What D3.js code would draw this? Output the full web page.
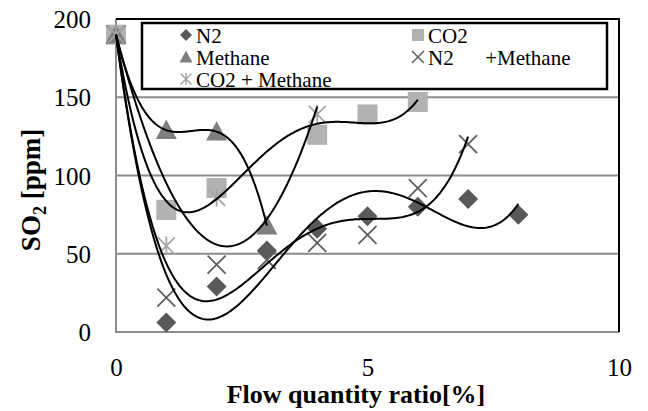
<!DOCTYPE html>
<html>
<head>
<meta charset="utf-8">
<script src="https://cdn.jsdelivr.net/npm/d3@7"></script>
<style>
  html, body { margin: 0; padding: 0; background: #fff; }
  svg { display: block; }
  text { font-family: "Liberation Serif", "Times New Roman", serif; fill: #000; }
</style>
</head>
<body>
<svg id="chart" width="648" height="411"></svg>
<script>
// ---------- data ----------
const xN2 = [0, 1, 2, 3, 4, 5, 6, 7, 8];
const yN2 = [190, 6, 29, 52, 66, 74, 80, 85, 75];

const xCO2 = [0, 1, 2, 4, 5, 6];
const yCO2 = [190, 78, 92, 126, 139, 147];

const xMethane = [0, 1, 2, 3];
const yMethane = [190, 129, 128, 68];

const xN2Methane = [0, 1, 2, 3, 4, 5, 6, 7];
const yN2Methane = [190, 22, 43, 46, 57, 62, 92, 120];

const xCO2Methane = [0, 1, 2, 4];
const yCO2Methane = [190, 55, 86, 139];

const seriesNames = ["N2", "CO2", "Methane", "N2\u2003\u2002+Methane", "CO2 + Methane"];
// polynomial trendline orders (intercept fixed at first value)
const trendOrders = [4, 4, 3, 4, 2];

const xTicks = [0, 5, 10];
const yTicks = [0, 50, 100, 150, 200];
const xTitle = "Flow quantity ratio[%]";

// ---------- layout ----------
const svg = d3.select("#chart");
const X0 = 116, X1 = 619, Y0 = 332, Y1 = 19;
const x = d3.scaleLinear().domain([0, 10]).range([X0, X1]);
const y = d3.scaleLinear().domain([0, 200]).range([Y0, Y1]);
const FONT = "Liberation Serif";

const series = [
  { name: seriesNames[0], xs: xN2, ys: yN2, type: "diamond", color: "#595959", order: trendOrders[0] },
  { name: seriesNames[1], xs: xCO2, ys: yCO2, type: "square", color: "#b2b2b2", order: trendOrders[1] },
  { name: seriesNames[2], xs: xMethane, ys: yMethane, type: "triangle", color: "#7f7f7f", order: trendOrders[2] },
  { name: seriesNames[3], xs: xN2Methane, ys: yN2Methane, type: "cross", color: "#5f5f5f", order: trendOrders[3] },
  { name: seriesNames[4], xs: xCO2Methane, ys: yCO2Methane, type: "star", color: "#a6a6a6", order: trendOrders[4] }
];

// gridlines
const grid = svg.append("g");
grid.selectAll("line.g").data(yTicks.filter(v => v < 200)).enter().append("line")
  .attr("x1", X0).attr("x2", X1)
  .attr("y1", d => y(d)).attr("y2", d => y(d))
  .attr("stroke", "#8c8c8c").attr("stroke-width", 2);
grid.append("line").attr("x1", X0).attr("x2", X0).attr("y1", Y1).attr("y2", Y0 + 1)
  .attr("stroke", "#8c8c8c").attr("stroke-width", 2);
grid.append("path")
  .attr("d", `M${X0},${Y1}H${X1}V${Y0}`)
  .attr("fill", "none").attr("stroke", "#000").attr("stroke-width", 2);

// axes labels via d3 axes
const yAxis = svg.append("g").attr("transform", `translate(${X0 - 25},0)`)
  .call(d3.axisLeft(y).tickValues(yTicks).tickSize(0).tickPadding(0));
yAxis.select(".domain").remove();
yAxis.attr("font-family", FONT);
yAxis.selectAll("text").attr("font-size", 25).attr("font-family", FONT).attr("dy", "0.34em");

const xAxis = svg.append("g").attr("transform", `translate(0,${Y0 + 26})`)
  .call(d3.axisBottom(x).tickValues(xTicks).tickSize(0).tickPadding(0));
xAxis.select(".domain").remove();
xAxis.attr("font-family", FONT);
xAxis.selectAll("text").attr("font-size", 25).attr("font-family", FONT).attr("dy", "0.72em");

// titles
svg.append("text").attr("x", 356).attr("y", 403).attr("text-anchor", "middle")
  .attr("font-family", FONT).attr("font-size", 26).attr("font-weight", "bold").text(xTitle);

const yt = svg.append("text").attr("transform", "translate(40,190) rotate(-90)")
  .attr("text-anchor", "middle").attr("font-family", FONT).attr("font-size", 27).attr("font-weight", "bold");
yt.append("tspan").text("SO");
yt.append("tspan").attr("font-size", 18).attr("dy", 6).text("2");
yt.append("tspan").attr("dy", -6).text(" [ppm]");

// ---------- markers ----------
function markerPath(type, s) {
  const h = s / 2;
  switch (type) {
    case "diamond": return `M0,${-h}L${h},0L0,${h}L${-h},0Z`;
    case "square": return `M${-h},${-h}H${h}V${h}H${-h}Z`;
    case "triangle": return `M0,${-h}L${h},${h * 0.85}L${-h},${h * 0.85}Z`;
    case "cross": return `M${-h},${-h}L${h},${h}M${h},${-h}L${-h},${h}`;
    case "star": return `M${-h},${-h}L${h},${h}M${h},${-h}L${-h},${h}M0,${-h * 1.1}V${h * 1.1}`;
  }
}
const sizes = { diamond: 20, square: 20, triangle: 21, cross: 18, star: 17 };
const legendSizes = { diamond: 12, square: 12, triangle: 13, cross: 12, star: 11 };
function drawMarker(g, type, color, s, w) {
  const filled = type !== "cross" && type !== "star";
  g.append("path").attr("d", markerPath(type, s))
    .attr("fill", filled ? color : "none")
    .attr("stroke", filled ? "none" : color)
    .attr("stroke-width", filled ? 0 : w);
}

const markers = svg.append("g");
series.forEach(sr => {
  sr.xs.forEach((xv, i) => {
    const g = markers.append("g").attr("transform", `translate(${x(xv)},${y(sr.ys[i])})`);
    drawMarker(g, sr.type, sr.color, sizes[sr.type], 1.8);
  });
});

// ---------- polynomial trendlines (least squares, intercept fixed) ----------
function polyFitFixed(xs, ys, n, c0) {
  const A = Array.from({ length: n }, () => new Array(n).fill(0));
  const b = new Array(n).fill(0);
  xs.forEach((xv, i) => {
    const r = ys[i] - c0;
    for (let j = 1; j <= n; j++) {
      b[j - 1] += Math.pow(xv, j) * r;
      for (let k = 1; k <= n; k++) A[j - 1][k - 1] += Math.pow(xv, j + k);
    }
  });
  for (let c = 0; c < n; c++) {
    let p = c;
    for (let r = c + 1; r < n; r++) if (Math.abs(A[r][c]) > Math.abs(A[p][c])) p = r;
    [A[c], A[p]] = [A[p], A[c]]; [b[c], b[p]] = [b[p], b[c]];
    for (let r = c + 1; r < n; r++) {
      const f = A[r][c] / A[c][c];
      for (let k = c; k < n; k++) A[r][k] -= f * A[c][k];
      b[r] -= f * b[c];
    }
  }
  const a = new Array(n).fill(0);
  for (let r = n - 1; r >= 0; r--) {
    let s = b[r];
    for (let k = r + 1; k < n; k++) s -= A[r][k] * a[k];
    a[r] = s / A[r][r];
  }
  return [c0, ...a];
}
const curves = svg.append("g");
series.forEach(sr => {
  const coef = polyFitFixed(sr.xs, sr.ys, sr.order, sr.ys[0]);
  const f = t => coef.reduce((s, c, k) => s + c * Math.pow(t, k), 0);
  const xmax = d3.max(sr.xs);
  const pts = d3.range(0, 201).map(i => xmax * i / 200);
  curves.append("path")
    .attr("d", d3.line().x(t => x(t)).y(t => y(f(t)))(pts))
    .attr("fill", "none").attr("stroke", "#000").attr("stroke-width", 2);
});

// ---------- legend ----------
const lg = svg.append("g");
lg.append("rect").attr("x", 142).attr("y", 23).attr("width", 465).attr("height", 66)
  .attr("fill", "#fff").attr("stroke", "#000").attr("stroke-width", 2.5);
const legendPos = [[186, 35], [418, 35], [186, 57], [418, 57], [186, 79]];
series.forEach((sr, i) => {
  const [lx, ly] = legendPos[i];
  const g = lg.append("g").attr("transform", `translate(${lx},${ly})`);
  drawMarker(g, sr.type, sr.color, legendSizes[sr.type], 1.5);
  lg.append("text").attr("x", lx + 10).attr("y", ly + 7.5)
    .attr("font-family", FONT)
    .attr("font-size", 21).attr("xml:space", "preserve").style("white-space", "pre")
    .text(sr.name);
});
</script>
</body>
</html>
